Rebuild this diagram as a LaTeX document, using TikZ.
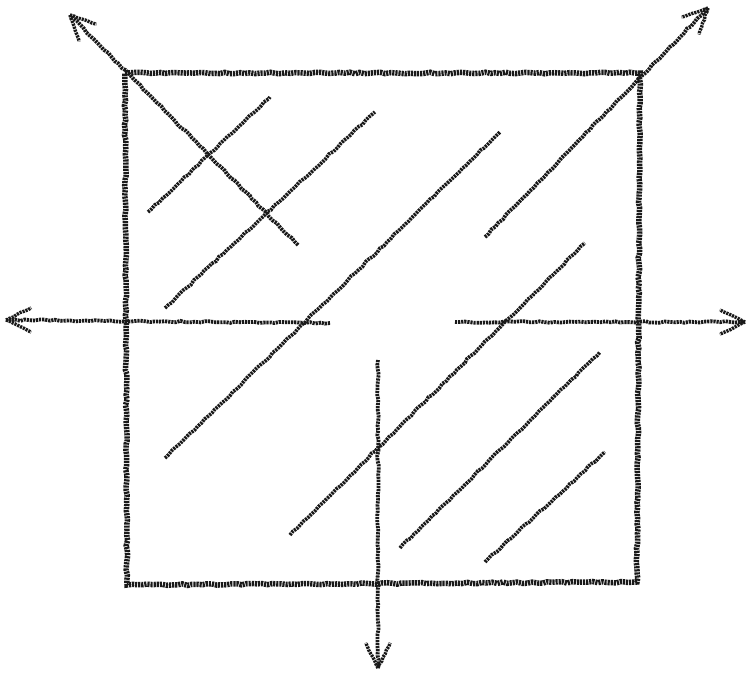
\documentclass[tikz,border=0pt]{standalone}
\usetikzlibrary{arrows.meta,decorations.pathmorphing}
\begin{document}
\begin{tikzpicture}[x=1pt,y=-1pt,
  pencil/.style={draw=black!90, line width=3.5pt, line cap=butt, dash pattern=on 2.2pt off 0.9pt,
    decorate, decoration={random steps, segment length=5pt, amplitude=0.8pt}},
  frame/.style={pencil, line width=5.5pt},
  hatchline/.style={pencil, line width=3.6pt},
  arrowline/.style={pencil, line width=3.8pt},
  tipline/.style={pencil, line width=3.4pt, decoration={random steps, segment length=4pt, amplitude=0.5pt}}]
\useasboundingbox (0,0) rectangle (750,673);
% square corners
\coordinate (tl) at (125,73);
\coordinate (tr) at (640,73);
\coordinate (br) at (637,582);
\coordinate (bl) at (127,585);
\draw[frame] (tl) -- (tr) -- (br) -- (bl) -- cycle;
% hatch lines
\coordinate (h1a) at (148,212); \coordinate (h1b) at (270,97);
\coordinate (h2a) at (165,308); \coordinate (h2b) at (375,112);
\coordinate (h3a) at (165,458); \coordinate (h3b) at (500,132);
\coordinate (h5a) at (290,535); \coordinate (h5b) at (585,243);
\coordinate (h6a) at (400,548); \coordinate (h6b) at (600,352);
\coordinate (h7a) at (485,562); \coordinate (h7b) at (605,452);
\foreach \n in {1,2,3,5,6,7} \draw[hatchline] (h\n a) -- (h\n b);
% arrows
\coordinate (nwS) at (298,245); \coordinate (nwE) at (70,15);
\coordinate (neS) at (485,237); \coordinate (neE) at (708,8);
\coordinate (wS) at (330,323); \coordinate (wE) at (6,320);
\coordinate (eS) at (455,322); \coordinate (eE) at (745,322);
\coordinate (sS) at (378,360); \coordinate (sE) at (378,668);
\foreach \a in {nw,ne,w,e,s} {
  \draw[arrowline] (\a S) -- (\a E);
}
\foreach \a/\ang in {nw/225, ne/-45, w/180, e/0, s/90} {
  \draw[tipline] (\a E) -- ++(\ang+180-26:28);
  \draw[tipline] (\a E) -- ++(\ang+180+26:28);
}
\end{tikzpicture}
\end{document}
